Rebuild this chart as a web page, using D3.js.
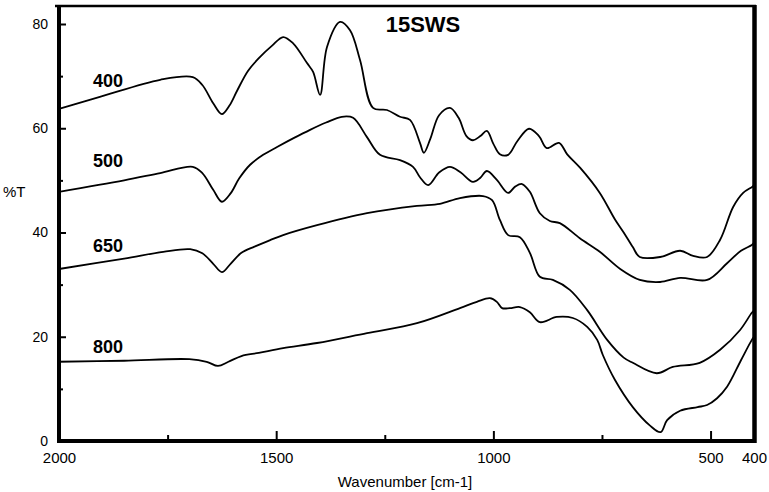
<html lang='en'>
<head>
   <meta charset='UTF-8'>
   <script src='https://d3js.org/d3.v7.min.js'></script>
   <style>
      body{
         margin: 0;
         padding: 0;
         background-color: white;
      }
      text{
         font-family: 'Liberation Sans', Arial, sans-serif;
      }
   </style>
</head>
<body>
   <div id='tavola'></div>
   <script>
   // spectra, [wavenumber, %T]
   var s400 = [[2000,63.7],[1906,66],[1767,69.3],[1692,69.8],[1670,68.3],[1645,64.8],[1625,62.7],[1608,64.3],[1590,67.2],[1565,71],[1537,73.7],[1510,75.8],[1484,77.5],[1461,76.3],[1429,72.5],[1415,70.8],[1399,66.4],[1383,75.6],[1353,80.4],[1330,78.8],[1307,73.1],[1277,63.9],[1245,63.5],[1215,62.2],[1192,61.6],[1169,57.2],[1160,55.3],[1145,58],[1125,62.5],[1100,63.9],[1080,62],[1062,58.5],[1047,57.7],[1030,58.5],[1015,59.5],[1000,57],[985,55],[966,54.9],[945,57.5],[918,59.9],[895,58.5],[877,56.2],[849,57.2],[830,55],[800,52.4],[755,47.6],[720,42.5],[700,40],[679,37.2],[663,35.3],[616,35.3],[570,36.5],[540,35.5],[508,35.3],[478,38.6],[448,44.9],[425,47.6],[405,48.7],[400,49]];
   var s500 = [[2000,47.8],[1850,50],[1767,51.4],[1692,52.6],[1670,51.4],[1645,48.2],[1625,45.9],[1605,47.5],[1585,50.4],[1560,53],[1530,54.9],[1498,56.4],[1460,58.1],[1422,59.7],[1385,61.1],[1349,62.2],[1323,62],[1291,58.3],[1261,54.9],[1215,53.9],[1185,52.6],[1169,50.6],[1150,49.1],[1125,51.5],[1100,52.6],[1075,51.5],[1047,49.7],[1030,50.5],[1015,51.8],[992,50.1],[966,47.6],[950,48.8],[934,49.3],[916,47.8],[893,43.7],[870,42.2],[847,41.8],[801,38.9],[755,36.3],[708,33],[663,30.9],[616,30.5],[570,31.3],[508,30.9],[462,34.1],[430,36.5],[405,37.6],[400,38]];
   var s650 = [[2000,33],[1850,35],[1760,36.3],[1698,36.8],[1670,36],[1645,34],[1625,32.4],[1605,34],[1580,36.1],[1550,37.3],[1515,38.5],[1484,39.5],[1406,41.4],[1291,43.7],[1176,45.1],[1123,45.5],[1077,46.6],[1024,47],[1003,46.2],[985,42.4],[966,39.5],[939,39.1],[916,36.1],[893,31.5],[863,30.9],[824,29],[784,25.1],[738,19.4],[700,16],[679,15],[624,13],[587,14.2],[525,15],[478,17.5],[432,21.3],[405,24.6],[400,25]];
   var s800 = [[2000,15.2],[1850,15.4],[1700,15.7],[1660,15.2],[1634,14.4],[1610,15.2],[1580,16.3],[1540,16.9],[1484,17.8],[1406,18.8],[1291,20.7],[1176,22.6],[1077,25.5],[1038,26.7],[1008,27.4],[992,26.7],[980,25.5],[962,25.5],[939,25.7],[916,24.7],[893,22.8],[854,23.8],[817,23.6],[784,21.9],[761,19.4],[748,16.5],[720,11.7],[679,6.5],[640,3],[615,1.7],[600,4],[570,5.8],[530,6.5],[508,6.9],[485,8.2],[462,10.4],[430,15.5],[405,19.4],[400,20]];

   var series = [s400, s500, s650, s800];
   var seriesNames = ['400','500','650','800'];
   var labelAt = [[1887,67.9],[1887,52.6],[1887,36.3],[1887,16.9]];

   var xTicks = [2000,1500,1000,500,400];
   var xMinor = [1750,1250,750];
   var yTicks = [0,20,40,60,80];
   var yMinor = [10,30,50,70];

   var W = 769, H = 492;
   var svg = d3.select('#tavola').append('svg')
      .attr('width', W)
      .attr('height', H);

   var x = d3.scaleLinear().domain([2000,400]).range([59,754]);
   var y = d3.scaleLinear().domain([0,80]).range([441,24]);

   // x axis, ticks pointing up into the plot
   var gx = svg.append('g')
      .attr('transform','translate(0,441)')
      .call(d3.axisBottom(x).tickValues(xTicks).tickSize(-10).tickPadding(11).tickFormat(d3.format('d')));
   svg.append('g')
      .attr('transform','translate(0,441)')
      .call(d3.axisBottom(x).tickValues(xMinor).tickSize(-6).tickFormat(''));

   var gy = svg.append('g')
      .attr('transform','translate(59,0)')
      .call(d3.axisLeft(y).tickValues(yTicks).tickSize(-7).tickPadding(11));
   svg.append('g')
      .attr('transform','translate(59,0)')
      .call(d3.axisLeft(y).tickValues(yMinor).tickSize(-4).tickFormat(''));

   svg.selectAll('.domain').remove();
   svg.selectAll('.tick line').attr('stroke','black').attr('stroke-width',2);
   svg.selectAll('.tick text')
      .attr('fill','black')
      .style('font-size','15px')
      .style('font-family',"'Liberation Sans', Arial, sans-serif");
   gy.selectAll('.tick text').style('font-size','14px');

   // frame
   svg.append('line').attr('x1',55).attr('x2',756).attr('y1',6).attr('y2',6)
      .attr('stroke','black').attr('stroke-width',2.5);
   svg.append('line').attr('x1',754.5).attr('x2',754.5).attr('y1',5).attr('y2',443)
      .attr('stroke','black').attr('stroke-width',4.5);
   svg.append('line').attr('x1',59).attr('x2',59).attr('y1',5).attr('y2',443)
      .attr('stroke','black').attr('stroke-width',4);
   svg.append('line').attr('x1',57).attr('x2',756).attr('y1',441).attr('y2',441)
      .attr('stroke','black').attr('stroke-width',4);

   var line = d3.line()
      .x(function(d){ return x(d[0]); })
      .y(function(d){ return y(d[1]); })
      .curve(d3.curveCatmullRom.alpha(0.5));

   for (let i = 0; i < series.length; i++) {
      svg.append('path')
         .attr('d', line(series[i]))
         .attr('fill','none')
         .attr('stroke','black')
         .attr('stroke-width',1.8)
         .attr('stroke-linejoin','round');

      svg.append('text')
         .attr('x', x(labelAt[i][0]))
         .attr('y', y(labelAt[i][1]))
         .attr('text-anchor','middle')
         .style('font-size','18px')
         .style('font-weight','bold')
         .text(seriesNames[i]);
   }

   svg.append('text')
      .attr('x',423).attr('y',32)
      .attr('text-anchor','middle')
      .style('font-size','22px')
      .style('font-weight','bold')
      .text('15SWS');

   svg.append('text')
      .attr('x',3).attr('y',197)
      .style('font-size','15px')
      .text('%T');

   svg.append('text')
      .attr('x',405).attr('y',487)
      .attr('text-anchor','middle')
      .style('font-size','15px')
      .text('Wavenumber [cm-1]');
   </script>
</body>
</html>
